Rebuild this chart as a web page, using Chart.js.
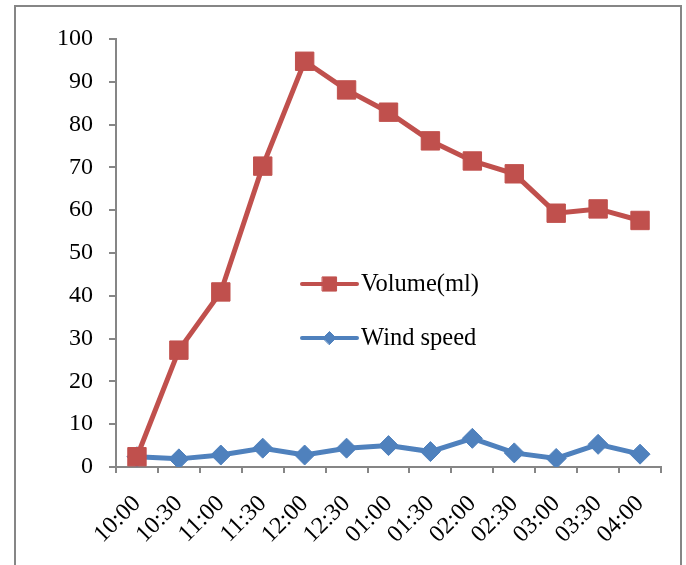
<!DOCTYPE html>
<html>
<head>
<meta charset="utf-8">
<script src="https://cdn.jsdelivr.net/npm/chart.js@4.4.0/dist/chart.umd.min.js"></script>
<style>
  html, body { margin: 0; padding: 0; background: #fff; }
  #wrap { width: 686px; height: 565px; position: relative; }
</style>
</head>
<body>
<div id="wrap"><canvas id="c" width="686" height="565"></canvas></div>
<script>
const times = ['10:00','10:30','11:00','11:30','12:00','12:30','01:00','01:30','02:00','02:30','03:00','03:30','04:00'];
const volume = [2.4, 27.3, 40.9, 70.3, 94.8, 88.1, 82.9, 76.2, 71.5, 68.5, 59.3, 60.3, 57.6];
const windSpeed = [2.4, 1.9, 2.8, 4.4, 2.8, 4.4, 5.0, 3.6, 6.7, 3.3, 2.0, 5.3, 3.0];
const yTicks = [0, 10, 20, 30, 40, 50, 60, 70, 80, 90, 100];

const RED = '#C0504D';
const BLUE = '#4F81BD';
const AXIS = '#868686';
const FONT = "'Liberation Serif', 'Times New Roman', serif";

// outer frame around the figure
const framePlugin = {
  id: 'frame',
  beforeDraw(chart) {
    const ctx = chart.ctx;
    ctx.save();
    ctx.fillStyle = '#fff';
    ctx.fillRect(0, 0, chart.width, chart.height);
    ctx.strokeStyle = AXIS;
    ctx.lineWidth = 2;
    ctx.strokeRect(15, 6, 666, 600);
    ctx.restore();
  }
};

// legend drawn inside the plot area: line, small marker, label
const innerLegend = {
  id: 'innerLegend',
  afterDraw(chart) {
    const ctx = chart.ctx;
    const a = chart.chartArea;
    const x0 = a.left + 186, x1 = a.left + 241;
    const rows = [a.top + 245, a.top + 299];
    const markerRadius = [10, 6.5];
    chart.data.datasets.forEach((ds, i) => {
      const y = rows[i];
      ctx.save();
      ctx.strokeStyle = ds.borderColor;
      ctx.lineWidth = 4;
      ctx.lineCap = 'round';
      ctx.beginPath();
      ctx.moveTo(x0, y);
      ctx.lineTo(x1, y);
      ctx.stroke();
      ctx.fillStyle = ds.pointBackgroundColor;
      ctx.strokeStyle = ds.pointBorderColor;
      ctx.lineWidth = 1;
      Chart.helpers.drawPoint(ctx, {
        pointStyle: ds.pointStyle,
        radius: markerRadius[i],
        borderWidth: 1,
        rotation: 0
      }, (x0 + x1) / 2, y);
      ctx.fillStyle = '#000';
      ctx.font = '24.5px ' + FONT;
      ctx.textBaseline = 'middle';
      ctx.fillText(ds.label, x1 + 4, y + 1);
      ctx.restore();
    });
  }
};

new Chart(document.getElementById('c'), {
  type: 'line',
  data: {
    labels: times,
    datasets: [
      {
        label: 'Volume(ml)',
        data: volume,
        borderColor: RED,
        backgroundColor: RED,
        pointBackgroundColor: RED,
        pointBorderColor: RED,
        borderWidth: 5,
        pointStyle: 'rect',
        pointRadius: 13,
        pointBorderWidth: 1,
        tension: 0
      },
      {
        label: 'Wind speed',
        data: windSpeed,
        borderColor: BLUE,
        backgroundColor: BLUE,
        pointBackgroundColor: BLUE,
        pointBorderColor: BLUE,
        borderWidth: 5,
        pointStyle: 'rectRot',
        pointRadius: 10,
        pointBorderWidth: 1,
        tension: 0
      }
    ]
  },
  options: {
    responsive: false,
    animation: false,
    events: [],
    layout: { padding: { top: 39, right: 25, left: 0, bottom: 0 } },
    plugins: {
      legend: { display: false },
      tooltip: { enabled: false }
    },
    scales: {
      x: {
        offset: true,
        grid: {
          offset: true,
          drawOnChartArea: false,
          color: AXIS,
          tickLength: 6,
          lineWidth: 2
        },
        border: { color: AXIS, width: 2 },
        ticks: {
          color: '#000',
          font: { family: FONT, size: 24 },
          minRotation: 45,
          maxRotation: 45,
          padding: 17,
          autoSkip: false
        },
        afterFit(scale) { scale.height = 98; }
      },
      y: {
        min: 0,
        max: 100,
        afterBuildTicks(scale) { scale.ticks = yTicks.map(v => ({ value: v })); },
        grid: {
          drawOnChartArea: false,
          color: AXIS,
          tickLength: 7,
          lineWidth: 2
        },
        border: { color: AXIS, width: 2 },
        ticks: {
          color: '#000',
          font: { family: FONT, size: 24 },
          padding: 16
        },
        afterFit(scale) { scale.width = 116; }
      }
    }
  },
  plugins: [framePlugin, innerLegend]
});
</script>
</body>
</html>
